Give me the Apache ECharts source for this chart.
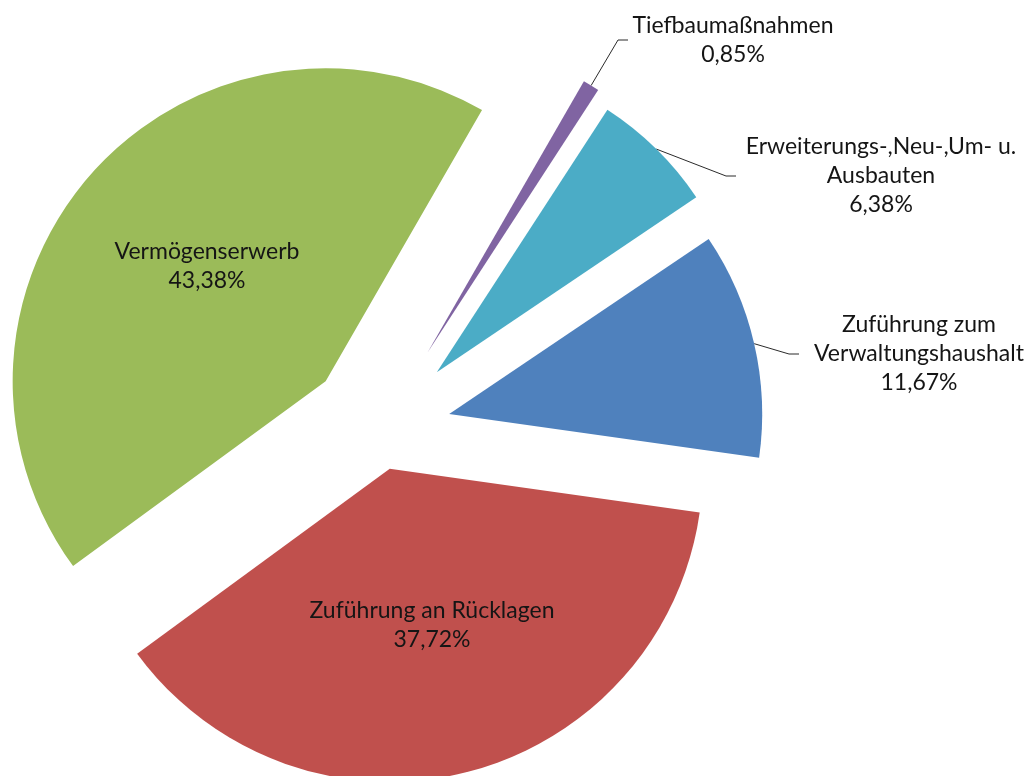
<!DOCTYPE html>
<html>
<head>
<meta charset="utf-8">
<script src="https://cdn.jsdelivr.net/npm/echarts@6/dist/echarts.min.js"></script>
<style>
    html, body { margin: 0; padding: 0; background: #ffffff; }
    #chart { width: 1036px; height: 776px; }
</style>
</head>
<body>
<div id="chart"></div>
<script>
// Segmente in Excel-Reihenfolge (im Uhrzeigersinn ab Startwinkel)
var categories = [
    'Zuführung zum\nVerwaltungshaushalt',
    'Zuführung an Rücklagen',
    'Vermögenserwerb',
    'Tiefbaumaßnahmen',
    'Erweiterungs-,Neu-,Um- u.\nAusbauten'
];
var shares = [11.67, 37.72, 43.38, 0.85, 6.38];
var colors = ['#4F81BD', '#C0504D', '#9BBB59', '#8064A2', '#4BACC6'];

// Layout
var startAngle = 34;
var baseCenter = [380, 430];
var radius = 313;
var explode = [71, 40, 73, 91, 81];            // Herausziehen je Segment (px)
var labelPos = [[919, 354], [432, 625], [207, 266], [733, 40], [881, 176]];
var labelInside = [false, true, true, false, false];
var labelWidth = [240, 0, 0, 210, 290];

var myChart = echarts.init(document.getElementById('chart'));

var total = shares.reduce(function (a, b) { return a + b; }, 0);
var acc = 0;
var series = shares.map(function (v, i) {
    // Mittelwinkel des Segments -> Richtung fürs Herausziehen
    var mid = (startAngle - (acc + v / 2) / total * 360) * Math.PI / 180;
    acc += v;
    var center = [
        baseCenter[0] + explode[i] * Math.cos(mid),
        baseCenter[1] - explode[i] * Math.sin(mid)
    ];
    var label = {
        position: labelInside[i] ? 'inside' : 'outside',
        formatter: function (p) {
            return p.name + '\n' + p.value.toFixed(2).replace('.', ',') + '%';
        },
        color: '#151515',
        fontFamily: 'Lato',
        fontSize: 23,
        lineHeight: 29,
        align: 'center'
    };
    if (!labelInside[i]) {
        label.width = labelWidth[i];
    }
    return {
        type: 'pie',
        center: center,
        radius: radius,
        startAngle: startAngle,
        clockwise: true,
        animation: false,
        silent: true,
        avoidLabelOverlap: false,
        itemStyle: { borderWidth: 0 },
        label: label,
        labelLine: {
            length2: 10,
            lineStyle: { color: '#2b2b2b', width: 1 }
        },
        labelLayout: function (p) {
            if (p.dataIndex !== i) return {};
            return { x: labelPos[i][0], y: labelPos[i][1], align: 'center', verticalAlign: 'middle' };
        },
        data: categories.map(function (name, j) {
            return {
                name: name,
                value: shares[j],
                itemStyle: { color: j === i ? colors[j] : 'transparent' },
                label: { show: j === i },
                labelLine: { show: j === i && !labelInside[j] }
            };
        })
    };
});

var option = {
    backgroundColor: '#ffffff',
    series: series
};

myChart.setOption(option);

window.addEventListener('resize', function () {
    myChart.resize();
});
</script>
</body>
</html>
